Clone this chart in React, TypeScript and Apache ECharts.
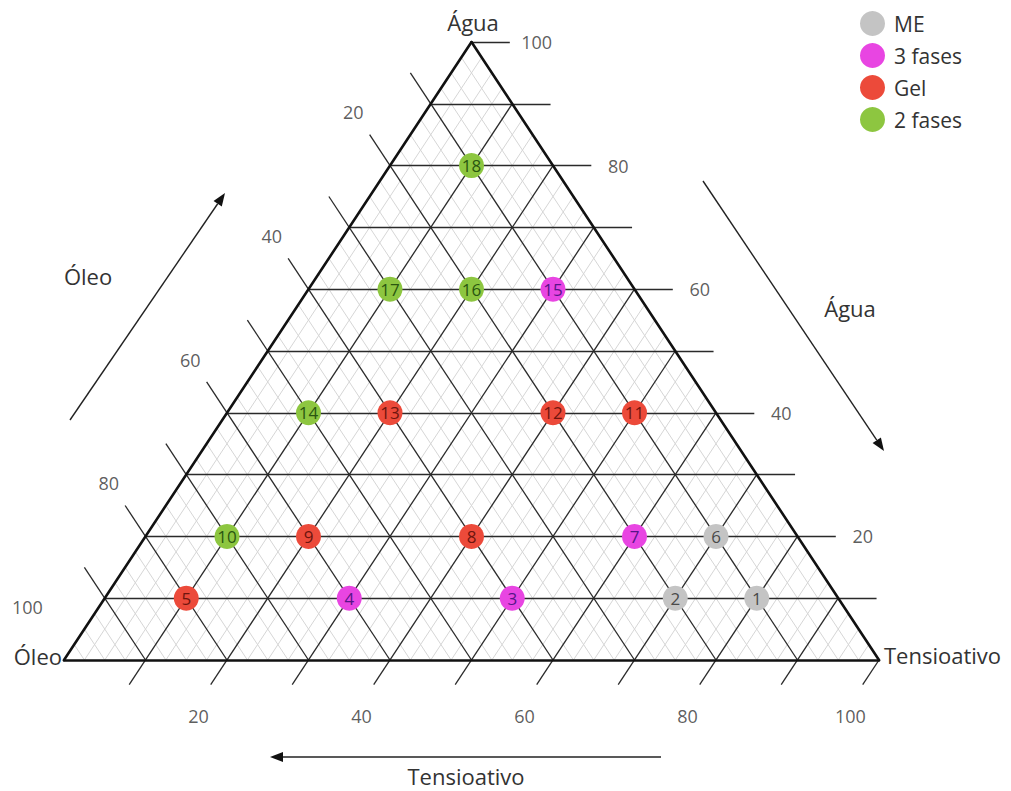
import React, { useEffect, useRef } from "react";
import * as echarts from "echarts";

const W = 1011;
const H = 791;
// ternary frame placement (pixels)
const LEFT_PX = 64;
const RIGHT_PX = 879;
const BASE_PX = 660;
const APEX_PX = 42;
const PX_X = (RIGHT_PX - LEFT_PX) / 100;
const PX_Y = (BASE_PX - APEX_PX) / 100;

// data: composition of each formulation (%)
const pointIds = [1, 2, 3, 4, 5, 6, 7, 8, 9, 10, 11, 12, 13, 14, 15, 16, 17, 18];
const aguaValues = [10, 10, 10, 10, 10, 20, 20, 20, 20, 20, 40, 40, 40, 40, 60, 60, 60, 80];
const oleoValues = [10, 20, 40, 60, 80, 10, 20, 40, 60, 70, 10, 20, 40, 50, 10, 20, 30, 10];
const tensValues = [80, 70, 50, 30, 10, 70, 60, 40, 20, 10, 50, 40, 20, 10, 30, 20, 10, 10];
const phaseIndex = [0, 0, 1, 1, 2, 0, 1, 2, 2, 3, 2, 2, 2, 3, 1, 3, 3, 3];

const phases = ["ME", "3 fases", "Gel", "2 fases"];
const phaseColors = ["#c4c4c4", "#e845e2", "#ec4a3a", "#8dc640"];
const phaseTextColors = ["#4a4a4a", "#561588", "#6e150e", "#2a5610"];

const tickLabels = [20, 40, 60, 80, 100];
const majorSteps = [10, 20, 30, 40, 50, 60, 70, 80, 90];

const FONT = "'Open Sans', sans-serif";
const TEXT = "#333333";

// ternary (Tensioativo, Água) -> cartesian
const tx = (t: number, a: number) => t + a / 2;

function buildLines() {
  const major: number[][][] = [];
  const minor: number[][][] = [];
  for (const a of [...majorSteps, 100]) {
    major.push([[a / 2, a], [100 - a / 2 + 4.7, a]]);
  }
  for (const o of majorSteps) {
    major.push([[100 - o, 0], [-5 + (105 - o) / 2, 105 - o]]);
  }
  for (const t of [...majorSteps, 100]) {
    major.push([[t + (100 - t) / 2, 100 - t], [t - 2, -4]]);
  }
  for (let k = 1; k < 40; k++) {
    const v = k * 2.5;
    if (k % 4 === 0) continue;
    minor.push([[100 - v, 0], [(100 - v) / 2, 100 - v]]);
    minor.push([[v, 0], [v + (100 - v) / 2, 100 - v]]);
  }
  const frame = [
    [[0, 0], [100, 0]],
    [[100, 0], [50, 100]],
    [[50, 100], [0, 0]],
  ];
  return { major, minor, frame };
}

function arrowGraphics(x1: number, y1: number, x2: number, y2: number) {
  const dx = x2 - x1;
  const dy = y2 - y1;
  const len = Math.sqrt(dx * dx + dy * dy);
  const ux = dx / len;
  const uy = dy / len;
  const hl = 13;
  const hw = 5;
  const bx = x2 - ux * hl;
  const by = y2 - uy * hl;
  return [
    {
      type: "line",
      shape: { x1, y1, x2: bx, y2: by },
      style: { stroke: "#222", lineWidth: 1.4 },
      silent: true,
    },
    {
      type: "polygon",
      shape: {
        points: [
          [x2, y2],
          [bx - uy * hw, by + ux * hw],
          [bx + uy * hw, by - ux * hw],
        ],
      },
      style: { fill: "#111" },
      silent: true,
    },
  ];
}

function titleText(text: string, x: number, y: number, align: string) {
  return {
    type: "text",
    x,
    y,
    silent: true,
    style: {
      text,
      fill: TEXT,
      font: `22px ${FONT}`,
      align,
      verticalAlign: "middle",
    },
  };
}

export default function App() {
  const ref = useRef<HTMLDivElement>(null);

  useEffect(() => {
    if (!ref.current) return;
    const chart = echarts.init(ref.current, null, { renderer: "svg" });
    const { major, minor, frame } = buildLines();

    const pointSeries = phases.map((name, p) => ({
      name,
      type: "scatter",
      z: 5,
      symbol: "circle",
      symbolSize: 25,
      itemStyle: { color: phaseColors[p], opacity: 1 },
      label: {
        show: true,
        position: "inside",
        formatter: (d: any) => String(d.value[2]),
        color: phaseTextColors[p],
        fontSize: 17,
        fontFamily: FONT,
      },
      data: pointIds
        .map((id, i) => ({ id, i }))
        .filter(({ i }) => phaseIndex[i] === p)
        .map(({ id, i }) => [tx(tensValues[i], aguaValues[i]), aguaValues[i], id]),
    }));

    const tickLabelData = [
      ...tickLabels.map((a) => [100 - a / 2 + 8, a, a]),
      ...tickLabels.map((o) => [(100 - o) / 2 - 4.5, 100 - o + 8.6, o]),
      ...tickLabels.map((t) => [t - 3.5, -9, t]),
    ];

    const option: any = {
      animation: false,
      backgroundColor: "#ffffff",
      grid: { left: 0, right: 0, top: 0, bottom: 0, containLabel: false },
      xAxis: {
        type: "value",
        min: -LEFT_PX / PX_X,
        max: (W - LEFT_PX) / PX_X,
        show: false,
        splitLine: { show: false },
      },
      yAxis: {
        type: "value",
        min: -(H - BASE_PX) / PX_Y,
        max: BASE_PX / PX_Y,
        show: false,
        splitLine: { show: false },
      },
      legend: {
        data: phases,
        orient: "vertical",
        left: 855,
        top: 6,
        icon: "circle",
        itemWidth: 25,
        itemHeight: 25,
        itemGap: 7,
        textStyle: { fontSize: 21, color: TEXT, fontFamily: FONT, padding: [0, 0, 0, 4] },
      },
      series: [
        {
          type: "lines",
          coordinateSystem: "cartesian2d",
          silent: true,
          z: 1,
          lineStyle: { color: "#d6d6d6", width: 1, opacity: 1 },
          data: minor.map((c) => ({ coords: c })),
        },
        {
          type: "lines",
          coordinateSystem: "cartesian2d",
          silent: true,
          z: 2,
          lineStyle: { color: "#2a2a2a", width: 1.3, opacity: 1 },
          data: major.map((c) => ({ coords: c })),
        },
        {
          type: "lines",
          coordinateSystem: "cartesian2d",
          silent: true,
          z: 3,
          lineStyle: { color: "#111111", width: 2.6, opacity: 1, cap: "round" },
          data: frame.map((c) => ({ coords: c })),
        },
        {
          type: "scatter",
          silent: true,
          z: 4,
          symbolSize: 1,
          itemStyle: { color: "rgba(0,0,0,0)" },
          label: {
            show: true,
            position: "inside",
            formatter: (d: any) => String(d.value[2]),
            color: TEXT,
            fontSize: 18,
            fontFamily: FONT,
          },
          data: tickLabelData,
        },
        ...pointSeries,
      ],
      graphic: [
        titleText("Água", 473, 22, "center"),
        titleText("Óleo", 62, 656, "right"),
        titleText("Tensioativo", 884, 655, "left"),
        titleText("Óleo", 88, 276, "center"),
        titleText("Água", 850, 308, "center"),
        titleText("Tensioativo", 466, 776, "center"),
        ...arrowGraphics(70, 420, 225, 193),
        ...arrowGraphics(703, 181, 884, 451),
        ...arrowGraphics(661, 757, 270, 757),
      ],
    };

    chart.setOption(option);
    return () => chart.dispose();
  }, []);

  return (
    <div
      ref={ref}
      style={{ position: "fixed", left: 0, top: 0, width: W, height: H, background: "#fff" }}
    />
  );
}
